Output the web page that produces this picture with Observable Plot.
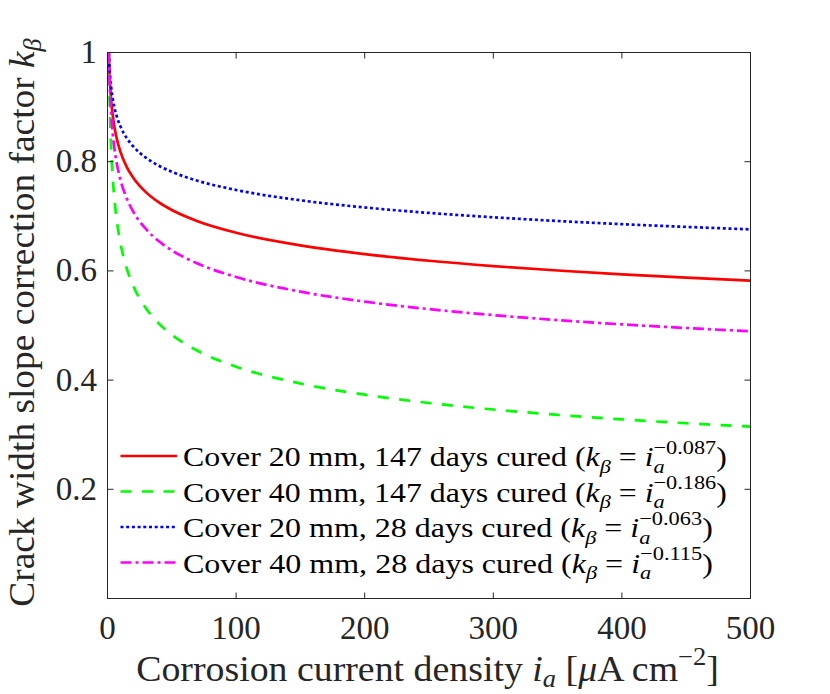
<!DOCTYPE html>
<html>
<head>
<meta charset="utf-8">
<script src="https://cdn.jsdelivr.net/npm/d3@7"></script>
<script src="https://cdn.jsdelivr.net/npm/@observablehq/plot@0.6"></script>
<style>
  html, body { margin: 0; padding: 0; background: #fff; }
  #chart { width: 830px; height: 694px; }
  text { white-space: pre; }
</style>
</head>
<body>
<div id="chart"></div>
<script>
// ---- data ----
const currentDensity = [1, 1.5, 2, 3, 4, 5, 7, 10, 15, 20, 30, 40, 50, 70, 100, 150, 200, 250, 300, 350, 400, 450, 500];
const kCover20Cured147 = [1, 0.9653, 0.9415, 0.9088, 0.8864, 0.8693, 0.8443, 0.8185, 0.7901, 0.7706, 0.7438, 0.7254, 0.7115, 0.6910, 0.6699, 0.6467, 0.6307, 0.6186, 0.6088, 0.6007, 0.5938, 0.5877, 0.5823];
const kCover40Cured147 = [1, 0.9274, 0.8790, 0.8152, 0.7727, 0.7413, 0.6964, 0.6516, 0.6043, 0.5728, 0.5312, 0.5035, 0.4831, 0.4537, 0.4246, 0.3938, 0.3733, 0.3581, 0.3461, 0.3364, 0.3281, 0.3210, 0.3148];
const kCover20Cured28 = [1, 0.9748, 0.9573, 0.9331, 0.9164, 0.9036, 0.8846, 0.8650, 0.8432, 0.8280, 0.8071, 0.7926, 0.7815, 0.7651, 0.7482, 0.7293, 0.7162, 0.7062, 0.6982, 0.6914, 0.6856, 0.6806, 0.6761];
const kCover40Cured28 = [1, 0.9544, 0.9234, 0.8813, 0.8526, 0.8310, 0.7995, 0.7674, 0.7324, 0.7085, 0.6763, 0.6542, 0.6377, 0.6135, 0.5889, 0.5620, 0.5437, 0.5300, 0.5190, 0.5099, 0.5021, 0.4954, 0.4894];

const seriesNames = [
  "Cover 20 mm, 147 days cured",
  "Cover 40 mm, 147 days cured",
  "Cover 20 mm, 28 days cured",
  "Cover 40 mm, 28 days cured"
];
const seriesExponents = ["−0.087", "−0.186", "−0.063", "−0.115"];
const seriesValues = [kCover20Cured147, kCover40Cured147, kCover20Cured28, kCover40Cured28];

const xTicks = [0, 100, 200, 300, 400, 500];
const yTicks = [0.2, 0.4, 0.6, 0.8, 1];

// ---- styles ----
const seriesColors = ["#ff0000", "#00ff00", "#0000ff", "#ff00ff"];
const seriesDashes = [null, "11,10.5", "3,2.7", "11,4,3,4"];
const axisColor = "#262626";
const FONT = "'Liberation Serif', 'Times New Roman', serif";

const tables = seriesValues.map((vals, s) =>
  currentDensity.map((c, i) => ({current: c, k: vals[i], series: seriesNames[s]}))
);

const tickUp = {draw(ctx) { ctx.moveTo(0, 0); ctx.lineTo(0, -6); }};
const tickDown = {draw(ctx) { ctx.moveTo(0, 0); ctx.lineTo(0, 6); }};
const tickRight = {draw(ctx) { ctx.moveTo(0, 0); ctx.lineTo(6, 0); }};
const tickLeft = {draw(ctx) { ctx.moveTo(0, 0); ctx.lineTo(-6, 0); }};

const plot = Plot.plot({
  width: 830,
  height: 694,
  marginLeft: 107,
  marginRight: 80,
  marginTop: 52,
  marginBottom: 96,
  style: {fontFamily: FONT, fontSize: "33px", color: axisColor, background: "#fff"},
  x: {domain: [0, 500]},
  y: {domain: [0, 1]},
  marks: [
    ...tables.map((t, s) => Plot.line(t, {
      x: "current", y: "k",
      stroke: seriesColors[s],
      strokeWidth: 2.7,
      strokeDasharray: seriesDashes[s],
      strokeLinecap: "butt",
      curve: "monotone-x",
      clip: true
    })),
    Plot.frame({stroke: axisColor, strokeWidth: 1}),
    Plot.axisX(xTicks, {anchor: "bottom", tickSize: 0, tickPadding: 17.5, label: null, fontSize: 33, tickFormat: d => String(d)}),
    Plot.axisY(yTicks, {anchor: "left", tickSize: 0, tickPadding: 10.5, label: null, fontSize: 33, tickFormat: d => String(d)}),
    Plot.dot(xTicks, {x: d => d, frameAnchor: "bottom", symbol: tickUp, stroke: axisColor, fill: "none", strokeWidth: 1}),
    Plot.dot(xTicks, {x: d => d, frameAnchor: "top", symbol: tickDown, stroke: axisColor, fill: "none", strokeWidth: 1}),
    Plot.dot(yTicks, {y: d => d, frameAnchor: "left", symbol: tickRight, stroke: axisColor, fill: "none", strokeWidth: 1}),
    Plot.dot(yTicks, {y: d => d, frameAnchor: "right", symbol: tickLeft, stroke: axisColor, fill: "none", strokeWidth: 1})
  ]
});

document.getElementById("chart").appendChild(plot);

// ---- rich text helper (italic math, sub/superscripts) ----
function richText(parent, segs, F, color, anchor, subShift = 0.24) {
  const text = parent.append("text")
    .attr("font-family", FONT)
    .attr("font-size", F)
    .attr("text-anchor", anchor)
    .attr("fill", color);
  let cur = 0, prev = null;
  for (const s of segs) {
    const size = (s.sub || s.sup) ? 0.7 * F : F;
    const target = s.sub ? subShift * F : s.sup ? -0.44 * F : 0;
    const ts = text.append("tspan").attr("font-size", size).text(s.t);
    if (s.it) ts.attr("font-style", "italic");
    if (target !== cur) ts.attr("dy", target - cur);
    if (s.stack && prev) ts.attr("dx", -prev.node().getComputedTextLength());
    cur = target; prev = ts;
  }
  return text;
}
function fit(text, width, transformPrefix) {
  const bb = text.node().getBBox();
  const sx = width / bb.width;
  text.attr("transform", `${transformPrefix} scale(${sx},1)`);
}

const svg = d3.select(plot);
const overlay = svg.append("g").attr("text-anchor", "start");

// x label
const xl = richText(overlay, [
  {t: "Corrosion current density "},
  {t: "i", it: true},
  {t: "a", it: true, sub: true},
  {t: " ["},
  {t: "μ", it: true},
  {t: "A cm"},
  {t: "−2", sup: true},
  {t: "]"}
], 36, axisColor, "middle", 0.17);
fit(xl, 583, "translate(427.5,681)");

// y label
const yl = richText(overlay, [
  {t: "Crack width slope correction factor "},
  {t: "k", it: true},
  {t: "β", it: true, sub: true}
], 36, axisColor, "middle", 0.2);
fit(yl, 569, "translate(34,322.5) rotate(-90)");

// legend
const legendRows = [456, 491.5, 527, 562.5];
const legendWidths = [544, 544, 530, 530];
seriesNames.forEach((name, s) => {
  const y = legendRows[s];
  overlay.append("line")
    .attr("x1", 120.5).attr("x2", 177).attr("y1", y).attr("y2", y)
    .attr("stroke", seriesColors[s])
    .attr("stroke-width", 2.7)
    .attr("stroke-dasharray", seriesDashes[s])
    .attr("stroke-linecap", "butt");
  const t = richText(overlay, [
    {t: name + " ("},
    {t: "k", it: true},
    {t: "β", it: true, sub: true},
    {t: " = "},
    {t: "i", it: true},
    {t: "a", it: true, sub: true},
    {t: seriesExponents[s], sup: true, stack: true},
    {t: ")"}
  ], 28, "#000", "start");
  fit(t, legendWidths[s], `translate(183,${y + 10})`);
});
</script>
</body>
</html>
